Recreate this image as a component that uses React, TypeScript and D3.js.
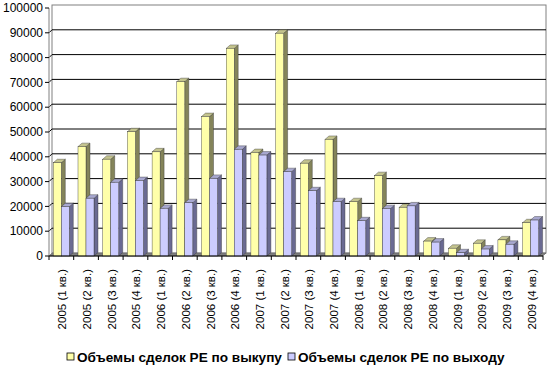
import React from 'react'
import * as d3 from 'd3'

const categories = [
  '2005 (1 кв.)', '2005 (2 кв.)', '2005 (3 кв.)', '2005 (4 кв.)',
  '2006 (1 кв.)', '2006 (2 кв.)', '2006 (3 кв.)', '2006 (4 кв.)',
  '2007 (1 кв.)', '2007 (2 кв.)', '2007 (3 кв.)', '2007 (4 кв.)',
  '2008 (1 кв.)', '2008 (2 кв.)', '2008 (3 кв.)', '2008 (4 кв.)',
  '2009 (1 кв.)', '2009 (2 кв.)', '2009 (3 кв.)', '2009 (4 кв.)',
]
const buyout = [37600, 44100, 39000, 50100, 42000, 70300, 56200, 83700, 41700, 89800,
  37400, 47000, 21900, 32400, 19600, 6000, 3100, 5100, 6500, 13400]
const exits = [19900, 23300, 29700, 30400, 19200, 21500, 31300, 43000, 40700, 34000,
  26300, 21900, 14200, 19100, 20200, 5600, 1300, 2800, 4700, 14500]
const yTicks = [0, 10000, 20000, 30000, 40000, 50000, 60000, 70000, 80000, 90000, 100000]
const seriesNames = ['Объемы сделок PE по выкупу', 'Объемы сделок PE по выходу']

const W = 552, H = 368
const font = 'Arial, "Liberation Sans", sans-serif'
// depth of the back wall and of the bars
const wallDx = 3, wallDy = -3
const barDx = 4, barDy = -3.5

const palette = [
  { face: '#FFFFAA', side: '#84845A', top: '#C4C48E' },
  { face: '#CCCCFF', side: '#6A6A92', top: '#A8A8D0' },
]

export default function App() {
  const x = d3.scaleBand<string>().domain(categories).range([49, 543])
  const inner = d3.scaleBand<number>().domain([0, 1]).range([4.3, 20.3])
  const y = d3.scaleLinear().domain([0, 100000]).range([256, 8])
  const y0 = y(0)

  const bar = (cat: string, si: number, v: number) => {
    const c = palette[si]
    const bx = (x(cat) as number) + (inner(si) as number)
    const bw = inner.bandwidth()
    const ty = y(v)
    const side = `${bx + bw},${ty} ${bx + bw + barDx},${ty + barDy} ${bx + bw + barDx},${y0 + barDy} ${bx + bw},${y0}`
    const top = `${bx},${ty} ${bx + barDx},${ty + barDy} ${bx + bw + barDx},${ty + barDy} ${bx + bw},${ty}`
    return (
      <g key={cat + si}>
        <polygon points={side} fill={c.side} stroke="#333" strokeWidth={0.4} />
        <polygon points={top} fill={c.top} stroke="#333" strokeWidth={0.4} />
        <rect x={bx} y={ty} width={bw} height={y0 - ty} fill={c.face} stroke="#333" strokeWidth={0.4} />
      </g>
    )
  }

  const left = x.range()[0], right = x.range()[1]

  return (
    <svg width={W} height={H} style={{ position: 'absolute', left: 0, top: 0, background: '#fff' }}>
      {/* back wall */}
      <rect x={left + wallDx} y={y(100000) + wallDy} width={right - left}
        height={y0 - y(100000)} fill="#fff" stroke="#808080" />
      {yTicks.filter(t => t > 0 && t < 100000).map(t => (
        <g key={t}>
          <line x1={left + wallDx} x2={right + wallDx} y1={y(t) + wallDy} y2={y(t) + wallDy} stroke="#000" />
          <line x1={left} x2={left + wallDx} y1={y(t)} y2={y(t) + wallDy} stroke="#000" />
        </g>
      ))}
      {/* floor */}
      <polygon points={`${left},${y0} ${right},${y0} ${right + wallDx},${y0 + wallDy} ${left + wallDx},${y0 + wallDy}`}
        fill="#808080" stroke="#555" strokeWidth={0.5} />
      {/* bars */}
      {categories.map((c, i) => (
        <g key={c}>
          {bar(c, 0, buyout[i])}
          {bar(c, 1, exits[i])}
        </g>
      ))}
      {/* y axis */}
      <line x1={left} x2={left} y1={y(100000)} y2={y0} stroke="#808080" />
      {yTicks.map(t => (
        <g key={'t' + t}>
          <line x1={left - 4} x2={left} y1={y(t)} y2={y(t)} stroke="#000" />
          <text x={left - 6} y={y(t)} dy="0.35em" textAnchor="end" fontFamily={font} fontSize={12} fill="#000">{t}</text>
        </g>
      ))}
      {/* x axis */}
      <line x1={left} x2={right} y1={y0} y2={y0} stroke="#000" />
      {categories.map((c, i) => (
        <line key={'xt' + i} x1={x(c) as number} x2={x(c) as number} y1={y0} y2={y0 + 4} stroke="#000" />
      ))}
      <line x1={right} x2={right} y1={y0} y2={y0 + 4} stroke="#000" />
      {categories.map(c => {
        const cx = (x(c) as number) + x.bandwidth() / 2 + 1
        return (
          <text key={'xl' + c} transform={`translate(${cx},269) rotate(-90)`} textAnchor="end" dy="0.35em"
            fontFamily={font} fontSize={11.5} fill="#000">{c}</text>
        )
      })}
      {/* legend */}
      {seriesNames.map((n, i) => {
        const lx = i === 0 ? 67 : 288
        return (
          <g key={n}>
            <rect x={lx} y={353} width={7} height={7} fill={palette[i].face} stroke="#000" strokeWidth={0.8} />
            <text x={lx + 10} y={357} dy="0.35em" fontFamily={font} fontSize={13.6} fontWeight="bold" fill="#000">{n}</text>
          </g>
        )
      })}
    </svg>
  )
}
